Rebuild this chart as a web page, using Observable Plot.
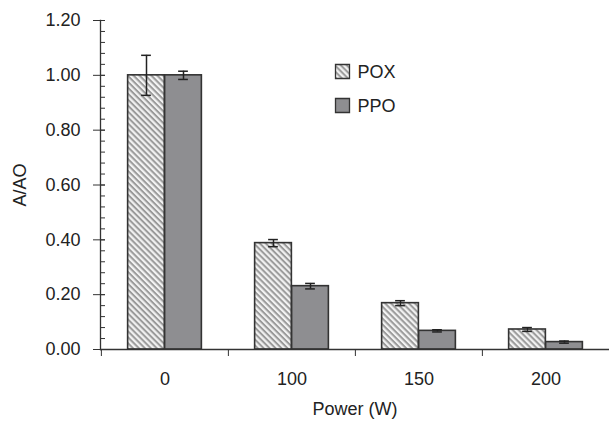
<!DOCTYPE html>
<html><head><meta charset="utf-8">
<script src="https://cdn.jsdelivr.net/npm/d3@7"></script>
<script src="https://cdn.jsdelivr.net/npm/@observablehq/plot@0.6"></script>
<style>body{margin:0;background:#fff}</style>
</head><body><div id="chart"></div>
<script>
const categories = ["0", "100", "150", "200"];
const series = ["POX", "PPO"];
const poxValues = [1.00, 0.388, 0.169, 0.073];
const poxErrors = [0.073, 0.013, 0.009, 0.007];
const ppoValues = [1.00, 0.231, 0.068, 0.027];
const ppoErrors = [0.015, 0.010, 0.004, 0.004];
const yMajorTicks = [0, 0.2, 0.4, 0.6, 0.8, 1.0, 1.2];
const yMinorTicks = d3.range(0, 1.2001, 0.04);

const W = 609, H = 424, mL = 100, mR = 0, mT = 20, mB = 75;
const bw = (W - mL - mR) / categories.length;
const barW = 37, off = barW / 2, capW = 10;

const pox = categories.map((c, i) => ({power: c, value: poxValues[i], err: poxErrors[i]}));
const ppo = categories.map((c, i) => ({power: c, value: ppoValues[i], err: ppoErrors[i]}));
const hatch = "url(#poxHatch)";
const gray = "#8e8e91";
const fills = [hatch, gray];

function errMarks(data, shift) {
  const capL = bw / 2 + shift - capW / 2, capR = bw / 2 - shift - capW / 2;
  return [
    Plot.ruleX(data, {x: "power", y1: d => d.value - d.err, y2: d => d.value + d.err, dx: shift, stroke: "#222", strokeWidth: 1.5}),
    Plot.tickY(data, {x: "power", y: d => d.value + d.err, insetLeft: capL, insetRight: capR, stroke: "#222", strokeWidth: 1.5}),
    Plot.tickY(data, {x: "power", y: d => d.value - d.err, insetLeft: capL, insetRight: capR, stroke: "#222", strokeWidth: 1.5})
  ];
}

const legend = series.flatMap((s, i) => [
  Plot.dot([s], {frameAnchor: "top-left", dx: 242, dy: 51 + i * 34, symbol: "square", r: 7.9, fill: fills[i], stroke: "#333", strokeWidth: 1.3}),
  Plot.text([s], {frameAnchor: "top-left", dx: 257, dy: 52 + i * 34, text: d => d, textAnchor: "start", lineAnchor: "middle", fontSize: 18, fill: "#222"})
]);

const chart = Plot.plot({
  width: W, height: H,
  marginLeft: mL, marginRight: mR, marginTop: mT, marginBottom: mB,
  style: {fontFamily: "'Liberation Sans', Arial, sans-serif", fontSize: "18px", color: "#222", background: "#fff"},
  x: {type: "band", domain: categories, padding: 0},
  y: {domain: [0, 1.2]},
  marks: [
    Plot.barY(pox, {x: "power", y: "value", fill: hatch, stroke: "#333", strokeWidth: 1.6, insetLeft: bw / 2 - barW, insetRight: bw / 2}),
    Plot.barY(ppo, {x: "power", y: "value", fill: gray, stroke: "#333", strokeWidth: 1.6, insetLeft: bw / 2, insetRight: bw / 2 - barW}),
    ...errMarks(pox, -off),
    ...errMarks(ppo, off),
    Plot.ruleY([0], {stroke: "#333", strokeWidth: 1.3}),
    Plot.frame({anchor: "left", stroke: "#333", strokeWidth: 1.3}),
    Plot.axisY(yMinorTicks, {tickSize: 5, dx: 5, tickFormat: () => "", stroke: "#333", label: null}),
    Plot.axisY(yMajorTicks, {tickSize: 12, dx: 5, tickPadding: 13, tickFormat: d => d.toFixed(2), fontSize: 18, stroke: "#333", label: "A/AO", labelAnchor: "center", labelArrow: "none", labelOffset: 87}),
    Plot.axisX({tickSize: 7, dx: -bw / 2, tickFormat: () => "", stroke: "#333", label: null}),
    Plot.axisX({tickSize: 0, tickPadding: 23, fontSize: 18, label: "Power (W)", labelAnchor: "center", labelArrow: "none", labelOffset: 65}),
    ...legend
  ]
});

const svg = d3.select(chart);
const defs = svg.insert("defs", ":first-child");
const pat = defs.append("pattern").attr("id", "poxHatch").attr("patternUnits", "userSpaceOnUse")
  .attr("width", 4.2).attr("height", 4.2).attr("patternTransform", "rotate(45)");
pat.append("rect").attr("width", 4.2).attr("height", 4.2).attr("fill", "#f2f2f2");
pat.append("rect").attr("width", 4.2).attr("height", 2).attr("fill", "#9a9a9a");

document.getElementById("chart").appendChild(chart);
</script>
</body></html>
